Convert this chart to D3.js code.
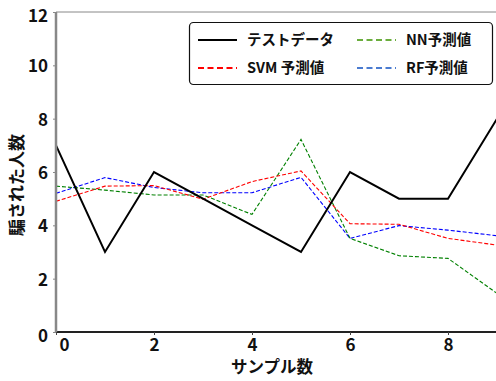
<!DOCTYPE html>
<html><head><meta charset="utf-8">
<script src="https://cdn.jsdelivr.net/npm/d3@7"></script>
<style>
body{margin:0;background:#fff;}
svg{display:block;font-family:"Noto Sans CJK JP","Noto Sans",sans-serif;font-weight:bold;}
</style></head>
<body>
<script>
const samples = [0,1,2,3,4,5,6,7,8,9];
const testData = [7,3,6,5,4,3,6,5,5,8];
const svmPred = [4.9,5.47,5.49,4.98,5.64,6.04,4.06,4.04,3.51,3.26];
const nnPred  = [5.47,5.32,5.14,5.14,4.41,7.22,3.51,2.86,2.76,1.45];
const rfPred  = [5.2,5.79,5.42,5.22,5.22,5.8,3.51,3.99,3.82,3.61];
const xTicks = [0,2,4,6,8];
const yTicks = [0,2,4,6,8,10,12];
const seriesNames = ["テストデータ","SVM 予測値","NN予測値","RF予測値"];

const W=496,H=381;
const svg=d3.select("body").append("svg").attr("width",W).attr("height",H);
const mLeft=56, mTop=12, mBottom=332, mRight=56+9*49;
const x=d3.scaleLinear().domain([0,9]).range([mLeft,mRight]);
const y=d3.scaleLinear().domain([0,12]).range([mBottom,mTop]);

// top spine
svg.append("line").attr("x1",mLeft).attr("x2",W).attr("y1",mTop).attr("y2",mTop).attr("stroke","#888").attr("stroke-width",1);

const series=[
 {name:seriesNames[0],data:testData,color:"#000",dash:null,w:2,lc:"#000"},
 {name:seriesNames[1],data:svmPred,color:"red",dash:"4,2",w:1.1,lc:"red"},
 {name:seriesNames[2],data:nnPred,color:"green",dash:"4,2",w:1.1,lc:"#6aad3d"},
 {name:seriesNames[3],data:rfPred,color:"blue",dash:"4,2",w:1.1,lc:"#4a7bd0"}
];
const line=d3.line().x((d,i)=>x(samples[i])).y(d=>y(d));
[series[3],series[2],series[1],series[0]].forEach(s=>{
  svg.append("path").datum(s.data).attr("d",line).attr("fill","none")
   .attr("stroke",s.color).attr("stroke-width",s.w).attr("stroke-dasharray",s.dash)
   .attr("stroke-linejoin","miter");
});

// axes
const gx=svg.append("g").attr("transform",`translate(0,${mBottom})`)
 .call(d3.axisBottom(x).tickValues(xTicks).tickSize(3).tickPadding(4).tickFormat(d3.format("d")));
gx.select(".domain").attr("stroke","#222").attr("stroke-width",2).attr("d",`M${mLeft},0H${W}`);
gx.selectAll(".tick line").attr("stroke","#444");
gx.selectAll(".tick text").attr("font-size",17).attr("font-family","'Noto Sans CJK JP'").attr("font-weight","bold").attr("fill","#111")
  .attr("dx",d=>d===0?8:0);
const gy=svg.append("g").attr("transform",`translate(${mLeft},0)`)
 .call(d3.axisLeft(y).tickValues(yTicks).tickSize(3).tickPadding(5).tickFormat(d3.format("d")));
gy.select(".domain").attr("stroke","#888").attr("stroke-width",2.5).attr("d",`M0,${mTop}V${mBottom}`);
gy.selectAll(".tick line").attr("stroke","#888");
gy.selectAll(".tick text").attr("font-size",17).attr("font-family","'Noto Sans CJK JP'").attr("font-weight","bold").attr("fill","#111")
  .attr("dy",d=>d===12?"0.55em":(d===0?"0.55em":"0.38em"));

// axis labels
svg.append("text").attr("x",272).attr("y",373).attr("text-anchor","middle").attr("font-size",16.5).attr("fill","#111").text("サンプル数");
svg.append("text").attr("transform","translate(23,185) rotate(-90)").attr("text-anchor","middle").attr("font-size",17).attr("fill","#111").text("騙された人数");

// legend
const lg=svg.append("g");
lg.append("rect").attr("x",189.5).attr("y",22.5).attr("width",303).attr("height",62).attr("rx",4)
  .attr("fill","#fff").attr("stroke","#111").attr("stroke-width",1.2);
const pos=[[198,40],[198,68],[357,40],[357,68]];
series.forEach((s,i)=>{
  const [lx,ly]=pos[i];
  lg.append("line").attr("x1",lx).attr("x2",lx+39).attr("y1",ly).attr("y2",ly)
    .attr("stroke",s.lc).attr("stroke-width",2.2).attr("stroke-dasharray",s.dash?"6,3.5":null);
  lg.append("text").attr("x",lx+49).attr("y",ly+5).attr("font-size",14.5).attr("fill","#111").text(s.name);
});
</script>
</body></html>
